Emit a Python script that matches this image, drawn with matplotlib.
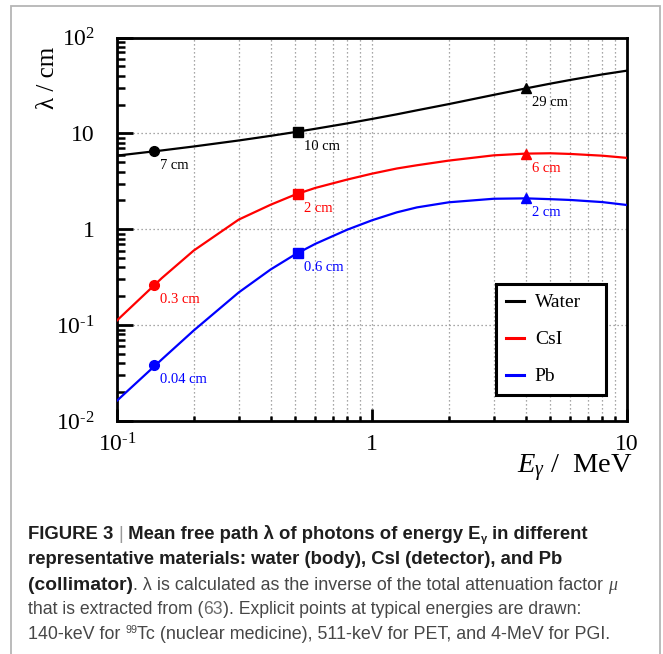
import matplotlib
matplotlib.use('Agg')
import matplotlib.pyplot as plt
from matplotlib import font_manager as fm
from matplotlib.patches import Rectangle

# ---------------- data ----------------
energy = [0.1, 0.15, 0.2, 0.3, 0.4, 0.5, 0.6, 0.8, 1.0, 1.25, 1.5, 2, 3, 4, 5, 6, 8, 10]
water = [5.86, 6.64, 7.30, 8.43, 9.42, 10.32, 11.17, 12.71, 14.14, 15.8, 17.4, 20.2, 25.2, 29.4, 33.0, 36.1, 41.2, 45.1]
csi = [0.112, 0.31, 0.60, 1.26, 1.80, 2.30, 2.70, 3.30, 3.80, 4.30, 4.65, 5.2, 5.9, 6.15, 6.2, 6.1, 5.85, 5.55]
pb = [0.0163, 0.044, 0.088, 0.219, 0.38, 0.547, 0.705, 0.99, 1.24, 1.50, 1.69, 1.91, 2.08, 2.10, 2.06, 2.02, 1.92, 1.79]

point_energy = [0.14, 0.511, 4.0]
point_markers = ['o', 's', '^']
water_pts = [6.5, 10.4, 29.4]
csi_pts = [0.265, 2.33, 6.15]
pb_pts = [0.038, 0.57, 2.10]
water_lbl = ['7 cm', '10 cm', '29 cm']
csi_lbl = ['0.3 cm', '2 cm', '6 cm']
pb_lbl = ['0.04 cm', '0.6 cm', '2 cm']

series_names = ['Water', 'CsI', 'Pb']
series_colors = ['#000000', '#ff0000', '#0000ff']

y_ticks = [1e-2, 1e-1, 1, 10, 100]
y_ticklabels = ['$10^{\u20102}$', '$10^{\u20101}$', '1', '10', '$10^{2}$']
x_ticks = [0.1, 1, 10]
x_ticklabels = ['$10^{\u20101}$', '1', '10']

# ---------------- fonts ----------------
plt.rcParams['mathtext.fontset'] = 'custom'
plt.rcParams['mathtext.rm'] = 'Liberation Serif'
plt.rcParams['mathtext.it'] = 'Liberation Serif:italic'
plt.rcParams['mathtext.bf'] = 'Liberation Serif:bold'
plt.rcParams['font.family'] = ['Liberation Serif', 'DejaVu Serif']

avail = {f.name for f in fm.fontManager.ttflist}
cap_family = 'Liberation Sans Narrow' if 'Liberation Sans Narrow' in avail else 'Liberation Sans'

W, H = 663, 654
fig = plt.figure(figsize=(W / 100, H / 100), dpi=100)

# outer gray frame
fig.patches.append(Rectangle((11 / W, -0.05), (660 - 11) / W, 1 - 6 / H + 0.05,
                             transform=fig.transFigure, fill=False,
                             edgecolor='#b5b5b5', linewidth=1.3))

ax_l, ax_r, ax_t, ax_b = 117, 627, 37.5, 421
ax = fig.add_axes([ax_l / W, 1 - ax_b / H, (ax_r - ax_l) / W, (ax_b - ax_t) / H])
ax.set_xscale('log')
ax.set_yscale('log')
ax.set_xlim(0.1, 10)
ax.set_ylim(1e-2, 1e2)

for s in ax.spines.values():
    s.set_linewidth(2.0)

ax.grid(True, which='major', axis='both', color='#8a8a8a', linestyle=(0, (1, 2.2)), linewidth=0.9)
ax.grid(True, which='minor', axis='x', color='#8a8a8a', linestyle=(0, (1, 2.2)), linewidth=0.9)

for name, col, ys, pts, lbls in zip(series_names, series_colors, [water, csi, pb],
                                    [water_pts, csi_pts, pb_pts], [water_lbl, csi_lbl, pb_lbl]):
    ax.plot(energy, ys, color=col, linewidth=1.6, label=name, zorder=3)
    for e, v, m, t in zip(point_energy, pts, point_markers, lbls):
        ax.plot([e], [v], marker=m, color=col, markersize=7 if m != '^' else 6.5,
                linestyle='none', zorder=4)
        ax.annotate(t, xy=(e, v), xytext=(6, -8), textcoords='offset pixels',
                    ha='left', va='top', fontsize=10.5, color=col, zorder=5)

ax.set_yticks(y_ticks)
ax.set_yticklabels(y_ticklabels)
ax.set_xticks(x_ticks)
ax.set_xticklabels(x_ticklabels)
ax.yaxis.set_minor_locator(matplotlib.ticker.LogLocator(base=10, subs=range(2, 10), numticks=20))
ax.xaxis.set_minor_locator(matplotlib.ticker.LogLocator(base=10, subs=range(2, 10), numticks=20))
ax.yaxis.set_minor_formatter(matplotlib.ticker.NullFormatter())
ax.xaxis.set_minor_formatter(matplotlib.ticker.NullFormatter())
ax.tick_params(axis='y', which='major', direction='in', length=11.5, width=2.0, labelsize=17, pad=16,
               left=True, right=False)
ax.tick_params(axis='y', which='minor', direction='in', length=5.8, width=1.8, left=True, right=False)
ax.tick_params(axis='x', which='major', direction='in', length=8.5, width=2.0, labelsize=17, pad=9,
               bottom=True, top=False)
ax.tick_params(axis='x', which='minor', direction='in', length=3.6, width=1.8, bottom=True, top=False)

ax.set_xlabel('$E_{\\gamma}$ /  MeV', fontsize=20.5, ha='right', va='center')
ax.xaxis.set_label_coords((633 - ax_l) / (ax_r - ax_l), -(468 - ax_b) / (ax_b - ax_t))
ax.set_ylabel('λ / cm', fontsize=18, ha='right', va='center')
ax.yaxis.set_label_coords((47.5 - ax_l) / (ax_r - ax_l), (ax_b - 47) / (ax_b - ax_t))

aw, ah = ax_r - ax_l, ax_b - ax_t
leg = ax.legend(loc='upper left',
                bbox_to_anchor=((496 - ax_l) / aw, (ax_b - 392) / ah, (606 - 496) / aw, (392 - 284) / ah),
                mode='expand',
                fontsize=14, frameon=True, fancybox=False, framealpha=1, edgecolor='black',
                handlelength=0.95, handletextpad=0.55, labelspacing=1.0, borderpad=0.5,
                borderaxespad=0)
leg.get_frame().set_linewidth(2.2)
for h in leg.get_lines():
    h.set_linewidth(2.2)

# ---------------- caption ----------------
renderer = fig.canvas.get_renderer()
dark = '#1e1e1e'
grey = '#474747'


def adv(text, props):
    t1 = fig.text(0, 0, '|' + text + '|', **props)
    t2 = fig.text(0, 0, '||', **props)
    w = t1.get_window_extent(renderer).width - t2.get_window_extent(renderer).width
    t1.remove()
    t2.remove()
    return w


def draw_line(y_base, runs, target, base_size):
    # runs: (text, props, size_factor, dy_factor)
    def make(size):
        return [dict(p, fontsize=size * f) for (_, p, f, _) in runs]
    props = make(base_size)
    total = sum(adv(r[0], p) for r, p in zip(runs, props))
    size = base_size * target / total
    props = make(size)
    x = 28
    for (txt, _, f, dy), p in zip(runs, props):
        fig.text(x / W, 1 - (y_base - dy * size) / H, txt, ha='left', va='baseline', **p)
        x += adv(txt, p)


B = dict(family=cap_family, weight='bold', color=dark)
R = dict(family=cap_family, weight='normal', color=grey)
RL = dict(family=cap_family, weight='normal', color='#6b6b6b')
SEP = dict(family=cap_family, weight='normal', color='#9a9a9a')
MU = dict(family='Liberation Serif', style='italic', weight='normal', color=grey)

draw_line(539, [('FIGURE 3 ', B, 1, 0), ('|', SEP, 1, 0),
                (' Mean free path λ of photons of energy E', B, 1, 0),
                ('γ', B, 0.6, -0.25), (' in different', B, 1, 0)], 590 - 28, 12.5)
draw_line(564, [('representative materials: water (body), CsI (detector), and Pb', B, 1, 0)],
          566 - 28, 12.5)
draw_line(590, [('(collimator)', B, 1, 0),
                ('. λ is calculated as the inverse of the total attenuation factor ', R, 0.93, 0),
                ('μ', MU, 0.93, 0)], 618 - 28, 12.5)
draw_line(614, [('that is extracted from (', R, 1, 0), ('63', RL, 1, 0),
                ('). Explicit points at typical energies are drawn:', R, 1, 0)], 585 - 28, 11.5)
draw_line(639, [('140-keV for ', R, 1, 0), ('99', R, 0.6, 0.45),
                ('Tc (nuclear medicine), 511-keV for PET, and 4-MeV for PGI.', R, 1, 0)],
          612 - 28, 11.5)

fig.savefig('out.png', dpi=100)
